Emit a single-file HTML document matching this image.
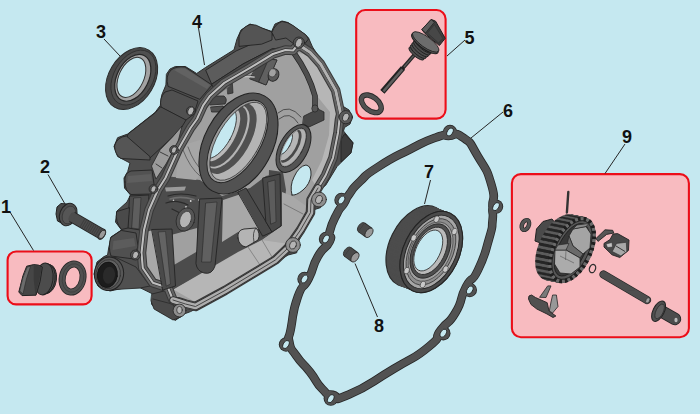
<!DOCTYPE html>
<html><head><meta charset="utf-8">
<style>
html,body{margin:0;padding:0;background:#c5e8f0;}
body{width:700px;height:414px;overflow:hidden;font-family:"Liberation Sans",sans-serif;}
svg{display:block;}
text{font-family:"Liberation Sans",sans-serif;font-weight:bold;font-size:18px;fill:#111;}
</style></head><body>
<svg width="700" height="414" viewBox="0 0 700 414">
<rect width="700" height="414" fill="#c5e8f0"/>
<g fill="#f8bbc0" stroke="#ec0e19" stroke-width="2.1">
<rect x="7.6" y="251.5" width="84" height="52.9" rx="8.5"/>
<rect x="356.2" y="10" width="89.4" height="108.6" rx="9"/>
<rect x="511.9" y="174.15" width="177" height="163.05" rx="9"/>
</g>
<g stroke="#262626" stroke-width="1" fill="none">
<path d="M10 212 L33.5 250.5"/>
<path d="M48 174.5 L65 204"/>
<path d="M104 39 L120 56"/>
<path d="M198.5 28 L204.5 65"/>
<path d="M465 40 L447 56"/>
<path d="M503 112 L471 138"/>
<path d="M430.5 180 L424.5 204"/>
<path d="M377.5 317 L355 263.5"/>
<path d="M625 144 L605 173.5"/>
</g>
<g id="seal3">
<ellipse cx="131.6" cy="78.6" rx="22.9" ry="33.3" transform="rotate(31 131.6 78.6)" fill="#474747" stroke="#2a2a2a" stroke-width="1"/>
<ellipse cx="133.4" cy="77.6" rx="19.6" ry="29.6" transform="rotate(30 133.4 77.6)" fill="#4f4f4f" stroke="#2e2e2e" stroke-width="0.8"/>
<ellipse cx="132.8" cy="77.8" rx="15.8" ry="25" transform="rotate(27 132.8 77.8)" fill="#a2a2a2" stroke="#262626" stroke-width="1.2"/>
<ellipse cx="131.4" cy="77.4" rx="12.4" ry="21.4" transform="rotate(25 131.4 77.4)" fill="#c5e8f0" stroke="#333" stroke-width="1"/>
</g>
<g id="case" stroke-linejoin="round" stroke-linecap="round">
<defs><clipPath id="inclip"><path d="M197 119 L203 105.7 L210 95.7 L224.3 82.9 L250 67.9 L272.9 54 L285.4 50 L293 50.5 L296 47 L300.5 46 L305 49 L310.5 52.7 L320.6 64 L335.7 90.4 L340.7 114 L339.4 120 L338 132.7 L333 157.8 L325.6 175.4 L318 188 L311 200 L310.5 212.6 L300.5 230 L288 248 L275.4 260 L225 290.5 L195.5 306.5 L185.5 304 L173 300 L168 287.7 L152.8 282.7 L142.8 268 L141.5 252.8 L144 230 L149 210 L157.8 190 L165.4 178 L178 150 L190.5 128 Z"/></clipPath></defs>
<path d="M166.6 74 L170 69 L175.4 66.5 L185.4 66.5 L196.7 73.5 L205.5 67.5 L234 49.8 L237 39 L241 30 L250 24 L260 27.6 L271.6 31.4 L275 24 L282 21 L288 22.5 L305 34.4 L308.6 38 L312.5 47 L337 85 L342.5 106 L349 110 L352.4 117 L350 124 L344.5 127.5 L343.5 131 L353 142.7 L350.7 152.8 L337 166.6 L325.6 185.4 L319 190 L324.4 197.5 L320.6 207.6 L313 210 L305.5 227.7 L299 240 L296.7 252.8 L288 255 L275.4 263 L225 294 L190.5 311.6 L184 314 L175.4 320.4 L156.6 310 L151.5 304 L152.8 294 L140 287.7 L124 288 L110 291 L98 286 L94 274 L97 262 L104 256.6 L107.6 255 L108.5 249 L111 237 L121.5 230 L115.5 222 L117 211 L127 202 L130.5 195 L124.5 188 L124 178 L127.7 171.6 L130 163 L117.6 156.5 L114 146.5 L117.6 137.7 L127.7 134 L155 112.5 L160.3 105.4 L161.6 95.4 L165.8 85.3 Z" fill="#4e4e4e" stroke="#2c2c2c" stroke-width="1"/>
<!-- wall details -->
<g stroke="#242424" stroke-width="0.9" stroke-linejoin="round">
<!-- top wall bands -->
<path d="M206 70 L236 51 L272 35 L297 32 L304 41 L296 46 L272 49 L243 64 L212 84 Z" fill="#5c5c5c"/>
<path d="M212 84 L243 64 L272 49 L296 46 L300 50 L272 56 L248 70 L216 92 Z" fill="#494949"/>
<!-- top bosses -->
<path d="M239 46 L239 36 Q241 28 250 24.5 Q256 24 262 28 L272 32 L272 40 L262 44 Z" fill="#545454"/>
<path d="M272 32 Q275 24 282 21.5 Q288 22 293 25.5 L306 35 L308.5 39 L303 46 L294 44 L286 38 L276 40 Z" fill="#545454"/>
<!-- upper-left cylinder 1 -->
<path d="M168 86 Q165 76 171 70 Q176 66 185 67 L212 85 L200 99 Z" fill="#555"/>
<path d="M174 70 Q178 67.5 185 68.5 L210 85 L207 89 Z" fill="#626262" stroke="none"/>
<!-- cylinder 2 -->
<path d="M161 107 Q159 98 165 92 L172 90 L198 101 L194 114 L186 120 Z" fill="#505050"/>
<!-- lower side wall -->
<path d="M161 107 L186 120 L180 130 L150 158 L126 140 L128 134 L155 113 Z" fill="#4c4c4c"/>
<!-- light wedge under side wall -->
<path d="M172.5 137 L182 126 L178 142 L166 164 L156 179 L151.5 166 L160 150 Z" fill="#9c9c9c" stroke="#242424" stroke-width="0.8"/>
<path d="M160 152 L168 156 M156 164 L162 168" stroke="#333" stroke-width="0.9" fill="none"/>
<!-- left long cylinder -->
<path d="M126 136 Q117 137 114.5 146 Q115 155 121 158.5 L150 160 L150 157 Z" fill="#555"/>
<!-- left wall cylinders -->
<path d="M125 182 Q124 173 131 171 L152 170 L154 184 L152 194 L131 194.5 Q125 191 125 182 Z" fill="#525252"/>
<path d="M128 176 L151 174 L152 181 L127 183 Z" fill="#5e5e5e" stroke="none"/>
<path d="M130 196 L149 195 L146 231 L128 228 Z" fill="#4c4c4c"/>
<path d="M134 198 L141 197.5 L139 229 L132 228 Z" fill="#5e5e5e" stroke-width="0.5"/>
<path d="M116.5 212 Q115 222 121.5 229.5 L128 228 L129.5 208 Z" fill="#4a4a4a"/>
<path d="M110.5 238 Q108 248 111 256 L134 259 L138 246 L136 233 L121.5 230.5 Z" fill="#505050"/>
<path d="M113.5 241 L134 238 L135.5 246 L112.5 250 Z" fill="#5c5c5c" stroke="none"/>
<!-- right dark block -->
<path d="M345 134 L353 143 L351 153 L341 162 L341 140 Z" fill="#3c3c3c"/>
</g>
<!-- spout -->
<path d="M107 257 L116 257.5 L136 267 L150 286 L140 288 L116 289.5 Z" fill="#505050" stroke="#242424" stroke-width="0.8"/>
<ellipse cx="109" cy="273.8" rx="14.6" ry="16.8" transform="rotate(8 109 273.8)" fill="#565656" stroke="#222" stroke-width="1"/>
<ellipse cx="108.2" cy="274.2" rx="12.2" ry="14.6" transform="rotate(8 108.2 274.2)" fill="#606060" stroke="#2a2a2a" stroke-width="0.7"/>
<ellipse cx="107.4" cy="274.8" rx="10" ry="12.8" transform="rotate(8 107.4 274.8)" fill="#1c1c1c" stroke="#111" stroke-width="0.8"/>
<ellipse cx="109" cy="275.2" rx="6" ry="8.6" transform="rotate(8 109 275.2)" fill="#2a2a2a"/>
<!-- foot block -->
<path d="M152 294 L168 290 L176 302 L186 308 L181 317 L173 320 L154 309 L151 301 Z" fill="#4a4a4a" stroke="#242424" stroke-width="0.8"/>
<path d="M153 299 L172 304 L178 311" fill="none" stroke="#2a2a2a" stroke-width="0.8"/>
<!-- interior -->
<path d="M197 119 L203 105.7 L210 95.7 L224.3 82.9 L250 67.9 L272.9 54 L285.4 50 L293 50.5 L296 47 L300.5 46 L305 49 L310.5 52.7 L320.6 64 L335.7 90.4 L340.7 114 L339.4 120 L338 132.7 L333 157.8 L325.6 175.4 L318 188 L311 200 L310.5 212.6 L300.5 230 L288 248 L275.4 260 L225 290.5 L195.5 306.5 L185.5 304 L173 300 L168 287.7 L152.8 282.7 L142.8 268 L141.5 252.8 L144 230 L149 210 L157.8 190 L165.4 178 L178 150 L190.5 128 Z" fill="#a0a0a0"/>
<g clip-path="url(#inclip)">
<!-- dark lower-left base -->
<path d="M150 200 L165 176 L200 180 L222 196 L250 188 L266 176 L283 172 L286 190 L282 226 L262 240 L173 290 L140 285 Z" fill="#4c4c4c"/>
<path d="M165 187.5 L186 186.5 L184.5 190.5 L166 191.5 Z" fill="#9a9a9a"/>
<path d="M168 196 Q180 192 196 196 M166 203 Q176 199 188 205 M172 209 L182 214" fill="none" stroke="#2a2a2a" stroke-width="1.2"/>
<path d="M170 199 Q180 195.5 194 199.5" fill="none" stroke="#6e6e6e" stroke-width="1.6"/>
<g fill="#d8d8d8"><circle cx="190.7" cy="201" r="0.9"/><circle cx="186" cy="207" r="0.9"/><circle cx="173.5" cy="200.3" r="0.8"/><circle cx="199" cy="200" r="0.8"/></g>
<!-- light patches -->
<path d="M180 146 L200 140 L204 168 L196 180 L176 178 Z" fill="#a6a6a6"/>
<path d="M183 150 Q190 168 200 176" fill="none" stroke="#555" stroke-width="0.8"/>
<path d="M188 147 Q194 164 203 171" fill="none" stroke="#555" stroke-width="0.8"/>
<path d="M171 235 L197 228 L197 251.5 L173 265.6 Z" fill="#a0a0a0"/>
<path d="M146 232 L153 230 L162 282 L156 285 L145 262 L143 245 Z" fill="#a8a8a8"/>
<path d="M223 200 L241 194 L259 229 L238 232 L222 242 Z" fill="#a8a8a8"/>
<path d="M282 192 L292 196 L306 206 L300 230 L290 244 L262 240 L282 226 Z" fill="#a8a8a8"/>
<path d="M284 204 L303 214" stroke="#666" stroke-width="0.7"/>
<!-- floor -->
<path d="M173.5 289.6 L238 252 L262 240 L290 244 L296 250 L282 259 L197 303 Z" fill="#b6b6b6"/>
<path d="M262 240 L275 262 M248 247 L262 268" stroke="#666" stroke-width="0.6"/>
<!-- right wall inner face -->
<path d="M297 53 L313 55 L335 88 L339 114 L336 140 L328 165 L316 186 L312 180 L322 160 L329 135 L330 112 L317 96 Z" fill="#b6b6b6"/>
<!-- top wide rib -->
<path d="M262 57 L277 60 L266 85 L250 79 Z" fill="#4a4a4a" stroke="#262626" stroke-width="0.8"/>
<path d="M269 59 L277 60 L266 85 L259 82 Z" fill="#606060" stroke="#262626" stroke-width="0.6"/>
<!-- round boss -->
<ellipse cx="273.5" cy="75" rx="5.2" ry="6.4" transform="rotate(25 273.5 75)" fill="#5a5a5a" stroke="#262626" stroke-width="0.9"/>
<ellipse cx="272.6" cy="72.8" rx="3.6" ry="4.2" transform="rotate(25 272.6 72.8)" fill="#a2a2a2" stroke="#333" stroke-width="0.5"/>
<!-- light arc -->
<path d="M231 80 Q242 75 254 77" fill="none" stroke="#c0c0c0" stroke-width="1.6"/>
<path d="M231 80 Q242 75 254 77" fill="none" stroke="#333" stroke-width="0.5" transform="translate(0 -1.2)"/>
<!-- post & capsule ribs upper-left of big boss -->
<path d="M227 79 L232 78 L233 93 L228 94 Z" fill="#474747" stroke="#262626" stroke-width="0.7"/>
<path d="M208 100 Q207 96 211 96 L224 96 Q228 99 225 104 L210 105 Z" fill="#4a4a4a" stroke="#262626" stroke-width="0.8"/>
<path d="M211 107 L223 106 Q226 109 222 112 L212 112 Z" fill="#505050" stroke="#262626" stroke-width="0.8"/>
<path d="M203 100 L211 92 L226 82 L230 86 L214 98 L207 108 Z" fill="#6a6a6a" stroke="none"/>
<!-- curved rib right -->
<path d="M294 53 Q309 74 315 96 L315 108" fill="none" stroke="#262626" stroke-width="5.6"/>
<path d="M294 53 Q309 74 315 96 L315 108" fill="none" stroke="#4e4e4e" stroke-width="4.2"/>
<!-- horizontal rib right -->
<path d="M304 116 L318 109 L324 112 L324 120 L309 127 L303 124 Z" fill="#484848" stroke="#262626" stroke-width="0.8"/>
<ellipse cx="315" cy="108.5" rx="3.2" ry="3.6" fill="#555" stroke="#262626" stroke-width="0.7"/>
<path d="M278 113 Q289 103 301 117 M279 119 Q290 110 298 123" fill="none" stroke="#3a3a3a" stroke-width="0.8"/>
<!-- rib between bosses -->
<path d="M269 170 L283 172 L280 205 L268 205 Z" fill="#4a4a4a"/>
</g>
<!-- flange -->
<path d="M197 119 L203 105.7 L210 95.7 L224.3 82.9 L250 67.9 L272.9 54 L285.4 50 L293 50.5 L296 47 L300.5 46 L305 49 L310.5 52.7 L320.6 64 L335.7 90.4 L340.7 114 L339.4 120 L338 132.7 L333 157.8 L325.6 175.4 L318 188 L311 200 L310.5 212.6 L300.5 230 L288 248 L275.4 260 L225 290.5 L195.5 306.5 L185.5 304 L173 300 L168 287.7 L152.8 282.7 L142.8 268 L141.5 252.8 L144 230 L149 210 L157.8 190 L165.4 178 L178 150 L190.5 128 Z" fill="none" stroke="#383838" stroke-width="9.5"/>
<path d="M197 119 L203 105.7 L210 95.7 L224.3 82.9 L250 67.9 L272.9 54 L285.4 50 L293 50.5 L296 47 L300.5 46 L305 49 L310.5 52.7 L320.6 64 L335.7 90.4 L340.7 114 L339.4 120 L338 132.7 L333 157.8 L325.6 175.4 L318 188 L311 200 L310.5 212.6 L300.5 230 L288 248 L275.4 260 L225 290.5 L195.5 306.5 L185.5 304 L173 300 L168 287.7 L152.8 282.7 L142.8 268 L141.5 252.8 L144 230 L149 210 L157.8 190 L165.4 178 L178 150 L190.5 128 Z" fill="none" stroke="#646464" stroke-width="7.5"/>
<path d="M197 119 L203 105.7 L210 95.7 L224.3 82.9 L250 67.9 L272.9 54 L285.4 50 L293 50.5 L296 47 L300.5 46 L305 49 L310.5 52.7 L320.6 64 L335.7 90.4 L340.7 114 L339.4 120 L338 132.7 L333 157.8 L325.6 175.4 L318 188 L311 200 L310.5 212.6 L300.5 230 L288 248 L275.4 260 L225 290.5 L195.5 306.5 L185.5 304 L173 300 L168 287.7 L152.8 282.7 L142.8 268 L141.5 252.8 L144 230 L149 210 L157.8 190 L165.4 178 L178 150 L190.5 128 Z" fill="none" stroke="#303030" stroke-width="3.5"/>
<path d="M197 119 L203 105.7 L210 95.7 L224.3 82.9 L250 67.9 L272.9 54 L285.4 50 L293 50.5 L296 47 L300.5 46 L305 49 L310.5 52.7 L320.6 64 L335.7 90.4 L340.7 114 L339.4 120 L338 132.7 L333 157.8 L325.6 175.4 L318 188 L311 200 L310.5 212.6 L300.5 230 L288 248 L275.4 260 L225 290.5 L195.5 306.5 L185.5 304 L173 300 L168 287.7 L152.8 282.7 L142.8 268 L141.5 252.8 L144 230 L149 210 L157.8 190 L165.4 178 L178 150 L190.5 128 Z" fill="none" stroke="#bebebe" stroke-width="2.1"/>
<path d="M300.5 46 L305 49 L310.5 52.7 L320.6 64 L335.7 90.4 L340.7 114" fill="none" stroke="#b2b2b2" stroke-width="2.8"/>
<!-- bottom flange lighter -->
<path d="M173 300 L185.5 304 L195.5 306.5 L225 290.5 L275.4 260 L288 248 L300.5 230 L310.5 212.6 L311 200 L318 188" fill="none" stroke="#2e2e2e" stroke-width="7.4"/>
<path d="M173 300 L185.5 304 L195.5 306.5 L225 290.5 L275.4 260 L288 248 L300.5 230 L310.5 212.6 L311 200 L318 188" fill="none" stroke="#adadad" stroke-width="5.6"/>
<path d="M173 300 L185.5 304 L195.5 306.5 L225 290.5 L275.4 260 L288 248 L300.5 230 L310.5 212.6 L311 200 L318 188" fill="none" stroke="#3a3a3a" stroke-width="0.9"/>
<!-- big boss -->
<defs><clipPath id="bigF"><ellipse cx="238.30" cy="141.30" rx="20.80" ry="43.60" transform="rotate(30.5 238.30 141.30)" fill="#000" /></clipPath></defs>
<ellipse cx="238.50" cy="143.50" rx="34.00" ry="54.20" transform="rotate(28.5 238.50 143.50)" fill="#525252" stroke="#222" stroke-width="1.1"/>
<ellipse cx="237.50" cy="141.50" rx="23.00" ry="45.80" transform="rotate(30.5 237.50 141.50)" fill="#9a9a9a" stroke="#222" stroke-width="0.9"/>
<g clip-path="url(#bigF)">
<ellipse cx="238.30" cy="141.30" rx="20.80" ry="43.60" transform="rotate(30.5 238.30 141.30)" fill="#b4b4b4" />
<ellipse cx="231.02" cy="138.62" rx="19.04" ry="39.21" transform="rotate(30.0 231.02 138.62)" fill="#505050" />
<ellipse cx="227.06" cy="136.86" rx="16.62" ry="35.19" transform="rotate(29.6 227.06 136.86)" fill="#b4b4b4" />
<ellipse cx="225.80" cy="136.30" rx="15.85" ry="33.91" transform="rotate(29.5 225.80 136.30)" fill="#505050" />
<ellipse cx="221.66" cy="134.46" rx="13.32" ry="29.70" transform="rotate(29.2 221.66 134.46)" fill="#bababa" />
<ellipse cx="219.50" cy="133.50" rx="12.00" ry="27.50" transform="rotate(29.0 219.50 133.50)" fill="#c5e8f0" stroke="#333" stroke-width="0.8"/>
</g>
<ellipse cx="238.30" cy="141.30" rx="20.80" ry="43.60" transform="rotate(30.5 238.30 141.30)" fill="none" stroke="#333" stroke-width="0.7"/>
<!-- small boss -->
<defs><clipPath id="smF"><ellipse cx="293.30" cy="147.40" rx="8.40" ry="20.30" transform="rotate(29.0 293.30 147.40)" fill="#000" /></clipPath></defs>
<ellipse cx="293.50" cy="148.50" rx="14.20" ry="26.00" transform="rotate(28.0 293.50 148.50)" fill="#545454" stroke="#222" stroke-width="1"/>
<ellipse cx="293.00" cy="147.50" rx="9.60" ry="21.50" transform="rotate(29.0 293.00 147.50)" fill="#9a9a9a" stroke="#262626" stroke-width="0.8"/>
<g clip-path="url(#smF)">
<ellipse cx="293.30" cy="147.40" rx="8.40" ry="20.30" transform="rotate(29.0 293.30 147.40)" fill="#b2b2b2" />
<ellipse cx="290.20" cy="146.10" rx="8.06" ry="18.35" transform="rotate(29.0 290.20 146.10)" fill="#484848" />
<ellipse cx="288.60" cy="145.30" rx="7.18" ry="16.55" transform="rotate(29.0 288.60 145.30)" fill="#b6b6b6" />
<ellipse cx="285.00" cy="143.50" rx="5.20" ry="12.50" transform="rotate(29.0 285.00 143.50)" fill="#c5e8f0" stroke="#333" stroke-width="0.8"/>
</g>
<!-- egg hole -->
<path d="M292 195 Q289.5 186 294 177 Q299 166 306 165 Q311.5 166 311 175 Q310 184 303 190 Q296 196 292 195 Z" fill="#c5e8f0" stroke="#2e2e2e" stroke-width="1"/>
<!-- ribs lower -->
<g stroke="#242424" stroke-width="0.9" stroke-linejoin="round">
<path d="M152 229.5 L172 229 L175.5 286 L163 290 Z" fill="#4a4a4a"/>
<path d="M158.5 232 L165.5 231.5 L170.5 284 L166.5 286 Z" fill="#636363" stroke="#2a2a2a" stroke-width="0.5"/>
<path d="M200 199 L222 198 L215 266 Q212 275 204 273 Q197 271 196 264 Z" fill="#4c4c4c"/>
<path d="M206 203 L217 202 L211 262 L202 262 Z" fill="#606060" stroke-width="0.5"/>
<path d="M238 192 L246 188 L272 232 L263 236 Z" fill="#4a4a4a"/>
<path d="M263 178 L280 174 L281 226 L272 232 L266 222 Z" fill="#484848"/>
<path d="M268 182 L275 180 L276 222 L271 224 Z" fill="#5c5c5c" stroke-width="0.5"/>
<!-- cylinder boss -->
<path d="M238 238 Q237 230 244 229 L256 228 Q261 233 258 240 L246 247 Q239 246 238 238Z" fill="#b4b4b4"/>
<path d="M256 228 Q252 232 254 242" fill="none" stroke-width="0.7"/>
</g>
<!-- left boss with hole -->
<ellipse cx="185.5" cy="219.5" rx="9" ry="12" transform="rotate(20 185.5 219.5)" fill="#555" stroke="#2a2a2a" stroke-width="0.8"/>
<ellipse cx="185.5" cy="219.5" rx="5.5" ry="8.5" transform="rotate(20 185.5 219.5)" fill="#b5b5b5" stroke="#2a2a2a" stroke-width="0.6"/>
<!-- mounting holes -->
<g fill="#8e8e8e" stroke="#242424" stroke-width="0.8">
<circle cx="319" cy="199.5" r="7.4"/>
<circle cx="293" cy="245" r="7.4"/>
<circle cx="179.5" cy="310.5" r="6.4"/>
<circle cx="345.8" cy="117.2" r="6.6" fill="#5a5a5a"/>
<circle cx="298.9" cy="42.6" r="5.6" fill="#555"/>
<circle cx="135.5" cy="255" r="5" fill="#555"/>
<circle cx="153.5" cy="189" r="4.4" fill="#555"/>
<circle cx="174" cy="150" r="4.4" fill="#555"/>
<circle cx="190.8" cy="111" r="4.4" fill="#555"/>
</g>
<g fill="#b4b4b4" stroke="#242424" stroke-width="0.7">
<ellipse cx="298.9" cy="42.8" rx="3.1" ry="4.7" transform="rotate(22 298.9 42.8)"/>
<ellipse cx="190.8" cy="111" rx="2.8" ry="4.2" transform="rotate(20 190.8 111)"/>
<ellipse cx="174" cy="150" rx="2.4" ry="3.4" transform="rotate(20 174 150)"/>
<ellipse cx="153.5" cy="189" rx="2.4" ry="3.4" transform="rotate(20 153.5 189)"/>
<ellipse cx="135.5" cy="255" rx="2.8" ry="3.8" transform="rotate(20 135.5 255)"/>
<ellipse cx="179.5" cy="310" rx="2.8" ry="3.6"/>
<ellipse cx="293" cy="245" rx="3.2" ry="4.2" transform="rotate(20 293 245)"/>
<ellipse cx="319" cy="199.5" rx="3.2" ry="4.2" transform="rotate(20 319 199.5)"/>
<ellipse cx="345.8" cy="117.2" rx="3" ry="4.2" transform="rotate(20 345.8 117.2)"/>
</g>
</g>
<g id="gasket">
<path d="M448.4 135.9 C457.4 135.9 453.1 130.6 463.0 137.5 C472.9 144.4 468.5 140.7 478.0 156.5 C487.5 172.3 486.7 168.7 491.5 185.0 C496.3 201.3 492.2 196.9 492.5 205.3 C492.8 213.7 492.4 204.9 492.4 210.1 C492.4 215.4 493.6 211.4 492.5 221.0 C491.4 230.6 493.8 222.7 489.0 239.0 C484.2 255.3 485.7 254.0 478.0 270.0 C470.3 286.0 473.4 272.8 465.9 286.9 C458.5 301.0 464.1 298.0 455.7 312.3 C447.3 326.6 449.7 318.4 440.8 329.8 C431.9 341.2 444.8 333.4 429.0 346.5 C413.2 359.6 420.2 353.0 393.5 369.0 C366.8 385.0 369.3 385.9 349.0 394.5 C328.7 403.1 341.6 396.7 332.7 394.8 C323.8 393.0 329.9 396.6 322.3 389.0 C314.7 381.4 318.6 383.0 310.0 372.0 C301.4 361.0 303.4 366.0 296.5 356.0 C289.6 346.0 291.3 351.4 289.4 342.1 C287.6 332.8 288.2 343.1 291.0 328.0 C293.8 312.9 291.9 313.2 297.8 296.7 C303.7 280.2 302.0 291.8 308.7 278.5 C315.3 265.2 310.8 269.1 317.8 256.7 C324.8 244.3 325.7 249.8 329.7 241.4 C333.7 233.0 327.3 240.8 329.7 231.6 C332.1 222.4 332.2 223.1 337.0 213.7 C341.8 204.3 340.0 209.9 344.1 203.3 C348.2 196.7 344.1 201.3 349.4 194.0 C354.7 186.7 350.5 190.5 360.0 181.5 C369.5 172.5 361.3 177.7 378.0 167.0 C394.7 156.3 390.7 159.1 410.0 149.3 C429.3 139.5 423.2 142.0 436.0 137.5 C448.8 133.0 439.4 135.9 448.4 135.9 Z" fill="none" stroke="#262626" stroke-width="8.6" stroke-linejoin="round"/>
<circle cx="450" cy="132" r="7.2" fill="#262626"/>
<circle cx="341.5" cy="200" r="7.2" fill="#262626"/>
<circle cx="326" cy="239" r="7.2" fill="#262626"/>
<circle cx="304.5" cy="279" r="7.2" fill="#262626"/>
<circle cx="286" cy="344.5" r="7.2" fill="#262626"/>
<circle cx="330.8" cy="398.6" r="7.2" fill="#262626"/>
<circle cx="443.3" cy="333.2" r="7.2" fill="#262626"/>
<circle cx="469.8" cy="290" r="7.2" fill="#262626"/>
<circle cx="496" cy="206.6" r="7.2" fill="#262626"/>
<path d="M448.4 135.9 C457.4 135.9 453.1 130.6 463.0 137.5 C472.9 144.4 468.5 140.7 478.0 156.5 C487.5 172.3 486.7 168.7 491.5 185.0 C496.3 201.3 492.2 196.9 492.5 205.3 C492.8 213.7 492.4 204.9 492.4 210.1 C492.4 215.4 493.6 211.4 492.5 221.0 C491.4 230.6 493.8 222.7 489.0 239.0 C484.2 255.3 485.7 254.0 478.0 270.0 C470.3 286.0 473.4 272.8 465.9 286.9 C458.5 301.0 464.1 298.0 455.7 312.3 C447.3 326.6 449.7 318.4 440.8 329.8 C431.9 341.2 444.8 333.4 429.0 346.5 C413.2 359.6 420.2 353.0 393.5 369.0 C366.8 385.0 369.3 385.9 349.0 394.5 C328.7 403.1 341.6 396.7 332.7 394.8 C323.8 393.0 329.9 396.6 322.3 389.0 C314.7 381.4 318.6 383.0 310.0 372.0 C301.4 361.0 303.4 366.0 296.5 356.0 C289.6 346.0 291.3 351.4 289.4 342.1 C287.6 332.8 288.2 343.1 291.0 328.0 C293.8 312.9 291.9 313.2 297.8 296.7 C303.7 280.2 302.0 291.8 308.7 278.5 C315.3 265.2 310.8 269.1 317.8 256.7 C324.8 244.3 325.7 249.8 329.7 241.4 C333.7 233.0 327.3 240.8 329.7 231.6 C332.1 222.4 332.2 223.1 337.0 213.7 C341.8 204.3 340.0 209.9 344.1 203.3 C348.2 196.7 344.1 201.3 349.4 194.0 C354.7 186.7 350.5 190.5 360.0 181.5 C369.5 172.5 361.3 177.7 378.0 167.0 C394.7 156.3 390.7 159.1 410.0 149.3 C429.3 139.5 423.2 142.0 436.0 137.5 C448.8 133.0 439.4 135.9 448.4 135.9 Z" fill="none" stroke="#525252" stroke-width="7" stroke-linejoin="round"/>
<circle cx="450" cy="132" r="6.4" fill="#525252"/>
<circle cx="341.5" cy="200" r="6.4" fill="#525252"/>
<circle cx="326" cy="239" r="6.4" fill="#525252"/>
<circle cx="304.5" cy="279" r="6.4" fill="#525252"/>
<circle cx="286" cy="344.5" r="6.4" fill="#525252"/>
<circle cx="330.8" cy="398.6" r="6.4" fill="#525252"/>
<circle cx="443.3" cy="333.2" r="6.4" fill="#525252"/>
<circle cx="469.8" cy="290" r="6.4" fill="#525252"/>
<circle cx="496" cy="206.6" r="6.4" fill="#525252"/>
<ellipse cx="450" cy="132" rx="2.7" ry="4.4" fill="#c5e8f0" stroke="#1e1e1e" stroke-width="0.8" transform="rotate(30 450 132)"/>
<ellipse cx="341.5" cy="200" rx="2.7" ry="4.4" fill="#c5e8f0" stroke="#1e1e1e" stroke-width="0.8" transform="rotate(30 341.5 200)"/>
<ellipse cx="326" cy="239" rx="2.7" ry="4.4" fill="#c5e8f0" stroke="#1e1e1e" stroke-width="0.8" transform="rotate(30 326 239)"/>
<ellipse cx="304.5" cy="279" rx="2.7" ry="4.4" fill="#c5e8f0" stroke="#1e1e1e" stroke-width="0.8" transform="rotate(30 304.5 279)"/>
<ellipse cx="286" cy="344.5" rx="2.7" ry="4.4" fill="#c5e8f0" stroke="#1e1e1e" stroke-width="0.8" transform="rotate(30 286 344.5)"/>
<ellipse cx="330.8" cy="398.6" rx="2.7" ry="4.4" fill="#c5e8f0" stroke="#1e1e1e" stroke-width="0.8" transform="rotate(30 330.8 398.6)"/>
<ellipse cx="443.3" cy="333.2" rx="2.7" ry="4.4" fill="#c5e8f0" stroke="#1e1e1e" stroke-width="0.8" transform="rotate(30 443.3 333.2)"/>
<ellipse cx="469.8" cy="290" rx="2.7" ry="4.4" fill="#c5e8f0" stroke="#1e1e1e" stroke-width="0.8" transform="rotate(30 469.8 290)"/>
<ellipse cx="496" cy="206.6" rx="2.7" ry="4.4" fill="#c5e8f0" stroke="#1e1e1e" stroke-width="0.8" transform="rotate(30 496 206.6)"/>
</g>
<g id="bearing">
<ellipse cx="417.30" cy="246.40" rx="27.7" ry="43.1" transform="rotate(26.2 417.30 246.40)" fill="#4c4c4c" stroke="#2a2a2a" stroke-width="1.2"/>
<ellipse cx="418.30" cy="246.80" rx="27.7" ry="43.1" transform="rotate(26.2 418.30 246.80)" fill="#4c4c4c" stroke="#2a2a2a" stroke-width="0"/>
<ellipse cx="419.30" cy="247.20" rx="27.7" ry="43.1" transform="rotate(26.2 419.30 247.20)" fill="#4c4c4c" stroke="#2a2a2a" stroke-width="0"/>
<ellipse cx="420.30" cy="247.60" rx="27.7" ry="43.1" transform="rotate(26.2 420.30 247.60)" fill="#4c4c4c" stroke="#2a2a2a" stroke-width="0"/>
<ellipse cx="421.30" cy="248.00" rx="27.7" ry="43.1" transform="rotate(26.2 421.30 248.00)" fill="#4c4c4c" stroke="#2a2a2a" stroke-width="0"/>
<ellipse cx="422.30" cy="248.40" rx="27.7" ry="43.1" transform="rotate(26.2 422.30 248.40)" fill="#4c4c4c" stroke="#2a2a2a" stroke-width="0"/>
<ellipse cx="423.30" cy="248.80" rx="27.7" ry="43.1" transform="rotate(26.2 423.30 248.80)" fill="#4c4c4c" stroke="#2a2a2a" stroke-width="0"/>
<ellipse cx="424.30" cy="249.20" rx="27.7" ry="43.1" transform="rotate(26.2 424.30 249.20)" fill="#4c4c4c" stroke="#2a2a2a" stroke-width="0"/>
<ellipse cx="425.30" cy="249.60" rx="27.7" ry="43.1" transform="rotate(26.2 425.30 249.60)" fill="#4c4c4c" stroke="#2a2a2a" stroke-width="0"/>
<ellipse cx="426.30" cy="250.00" rx="27.7" ry="43.1" transform="rotate(26.2 426.30 250.00)" fill="#4c4c4c" stroke="#2a2a2a" stroke-width="0"/>
<ellipse cx="427.30" cy="250.40" rx="27.7" ry="43.1" transform="rotate(26.2 427.30 250.40)" fill="#4c4c4c" stroke="#2a2a2a" stroke-width="0"/>
<ellipse cx="428.30" cy="250.80" rx="27.7" ry="43.1" transform="rotate(26.2 428.30 250.80)" fill="#4c4c4c" stroke="#2a2a2a" stroke-width="0"/>
<ellipse cx="429.30" cy="251.20" rx="27.7" ry="43.1" transform="rotate(26.2 429.30 251.20)" fill="#4c4c4c" stroke="#2a2a2a" stroke-width="0"/>
<ellipse cx="430.30" cy="251.60" rx="27.7" ry="43.1" transform="rotate(26.2 430.30 251.60)" fill="#4c4c4c" stroke="#2a2a2a" stroke-width="0"/>
<ellipse cx="431.30" cy="252.00" rx="27.7" ry="43.1" transform="rotate(26.2 431.30 252.00)" fill="#4c4c4c" stroke="#2a2a2a" stroke-width="1.2"/>
<g transform="translate(431.3 252) rotate(26.2)">
<ellipse rx="27.7" ry="43.1" fill="#4a4a4a" stroke="#242424" stroke-width="1"/>
<ellipse rx="24.3" ry="39.2" fill="#a6a6a6" stroke="#242424" stroke-width="0.9"/>
<ellipse cx="-0.4" rx="21.6" ry="35.4" fill="#8e8e8e" stroke="#3a3a3a" stroke-width="0.8"/>
<ellipse cx="-0.8" rx="19.6" ry="31.6" fill="#a0a0a0" stroke="#3a3a3a" stroke-width="0.6"/>
<ellipse cx="-1.2" cy="-0.5" rx="17.8" ry="29" fill="#4e4e4e" stroke="#242424" stroke-width="0.8"/>
<ellipse cx="-1.6" cy="-0.5" rx="14.8" ry="25.4" fill="#bababa" stroke="#242424" stroke-width="0.8"/>
<ellipse cx="-3.4" cy="0" rx="12" ry="22" fill="#c5e8f0" stroke="#333" stroke-width="0.8"/>
</g>
<ellipse cx="445.5" cy="269.1" rx="2.5" ry="3.5" fill="#c8c8c8" stroke="#333" stroke-width="0.6" transform="rotate(26.2 445.5 269.1)"/>
<ellipse cx="422.9" cy="284.5" rx="2.5" ry="3.5" fill="#c8c8c8" stroke="#333" stroke-width="0.6" transform="rotate(26.2 422.9 284.5)"/>
<ellipse cx="406.7" cy="270.6" rx="2.5" ry="3.5" fill="#c8c8c8" stroke="#333" stroke-width="0.6" transform="rotate(26.2 406.7 270.6)"/>
<ellipse cx="413.7" cy="237.9" rx="2.5" ry="3.5" fill="#c8c8c8" stroke="#333" stroke-width="0.6" transform="rotate(26.2 413.7 237.9)"/>
<ellipse cx="436.6" cy="219.2" rx="2.5" ry="3.5" fill="#c8c8c8" stroke="#333" stroke-width="0.6" transform="rotate(26.2 436.6 219.2)"/>
<ellipse cx="454.5" cy="231.5" rx="2.5" ry="3.5" fill="#c8c8c8" stroke="#333" stroke-width="0.6" transform="rotate(26.2 454.5 231.5)"/>
</g>
<g id="pins">
<ellipse cx="361.5" cy="227.3" rx="3.2" ry="5.4" transform="rotate(36.3 361.5 227.3)" fill="#4a4a4a" stroke="#2a2a2a" stroke-width="0.8"/>
<path d="M361.5 227.3 L369 232.8" stroke="#2a2a2a" stroke-width="11.6" fill="none"/>
<path d="M361.5 227.3 L369 232.8" stroke="#4a4a4a" stroke-width="10.2" fill="none"/>
<ellipse cx="369" cy="232.8" rx="3.2" ry="5.4" transform="rotate(36.3 369 232.8)" fill="#9a9a9a" stroke="#2a2a2a" stroke-width="0.8"/>
<ellipse cx="347.5" cy="251.8" rx="3.2" ry="5.4" transform="rotate(36.3 347.5 251.8)" fill="#4a4a4a" stroke="#2a2a2a" stroke-width="0.8"/>
<path d="M347.5 251.8 L355 257.3" stroke="#2a2a2a" stroke-width="11.6" fill="none"/>
<path d="M347.5 251.8 L355 257.3" stroke="#4a4a4a" stroke-width="10.2" fill="none"/>
<ellipse cx="355" cy="257.3" rx="3.2" ry="5.4" transform="rotate(36.3 355 257.3)" fill="#9a9a9a" stroke="#2a2a2a" stroke-width="0.8"/>
</g>
<g id="bolt2">
<!-- hex head behind -->
<path d="M57 207 L61 203.5 L67 204 L70 210 L68 220 L62.5 223.5 L57.5 221 L56 214 Z" fill="#474747" stroke="#222" stroke-width="1" stroke-linejoin="round"/>
<!-- flange -->
<ellipse cx="68.2" cy="214.6" rx="8.4" ry="11.6" transform="rotate(22 68.2 214.6)" fill="#4e4e4e" stroke="#222" stroke-width="1"/>
<ellipse cx="69" cy="215" rx="6.4" ry="9.2" transform="rotate(22 69 215)" fill="#565656" stroke="#2e2e2e" stroke-width="0.6"/>
<!-- shank -->
<path d="M72 216.8 L101.8 234.2" stroke="#222" stroke-width="11.2" fill="none"/>
<ellipse cx="101.8" cy="234.2" rx="3.2" ry="5.6" transform="rotate(30.3 101.8 234.2)" fill="#4a4a4a" stroke="#222" stroke-width="0.9"/>
<path d="M72 216.8 L101.8 234.2" stroke="#4c4c4c" stroke-width="9.6" fill="none"/>
<ellipse cx="72" cy="216.8" rx="2.8" ry="4.8" transform="rotate(30.3 72 216.8)" fill="#4c4c4c"/>
<path d="M82 222.6 L101.8 234.2" stroke="#3e3e3e" stroke-width="9.6" stroke-dasharray="1 1.2" fill="none"/>
<ellipse cx="102.2" cy="234.4" rx="2.5" ry="4.6" transform="rotate(30.3 102.2 234.4)" fill="#9a9a9a" stroke="#222" stroke-width="0.7"/>
</g>
<g id="plug1">
<!-- washer ring -->
<ellipse cx="72.6" cy="278" rx="10.3" ry="14.2" transform="rotate(12 72.6 278)" fill="none" stroke="#262626" stroke-width="7"/>
<ellipse cx="72.6" cy="278" rx="10.3" ry="14.2" transform="rotate(12 72.6 278)" fill="none" stroke="#505050" stroke-width="5.4"/>
<ellipse cx="73" cy="278" rx="10.6" ry="14.4" transform="rotate(12 73 278)" fill="none" stroke="#3a3a3a" stroke-width="0.7"/>
<!-- plug threads -->
<ellipse cx="47.5" cy="279" rx="9" ry="14.6" transform="rotate(8 47.5 279)" fill="#484848" stroke="#222" stroke-width="0.9"/>
<ellipse cx="46" cy="279" rx="9" ry="15.2" transform="rotate(8 46 279)" fill="#505050" stroke="#222" stroke-width="0.9"/>
<!-- disc flange -->
<ellipse cx="44" cy="279" rx="9" ry="16" transform="rotate(8 44 279)" fill="#4c4c4c" stroke="#222" stroke-width="1"/>
<!-- wing grip -->
<path d="M18.8 292 L20.4 285.8 Q22.5 275 26.7 266.2 L33.7 264.6 Q39 264.5 42.4 267 Q41 282 36 295.2 L22 295.6 Z" fill="#464646" stroke="#222" stroke-width="1" stroke-linejoin="round"/>
<path d="M19.6 291 Q22.5 276 27.2 267 L30.6 266.2 Q26 278 23 294 Z" fill="#6c6c6c" stroke="#2a2a2a" stroke-width="0.6"/>
<path d="M33.7 265.2 Q38 266 41.6 267.6 Q40 281 35.4 294.4 Q33 280 33.7 265.2 Z" fill="#3a3a3a"/>
</g>
<g id="dip5">
<!-- rod -->
<path d="M416.8 52 L382.6 91.6" stroke="#262626" stroke-width="3.8" fill="none"/>
<path d="M403 68 L382.4 91.8" stroke="#222" stroke-width="5.6" fill="none"/>
<path d="M402.4 69.4 L383.4 91.4" stroke="#5e5e5e" stroke-width="2.4" fill="none"/>
<path d="M415.5 53.6 L404 67" stroke="#5a5a5a" stroke-width="1.4" fill="none"/>
<!-- threads -->
<g fill="#4c4c4c" stroke="#222" stroke-width="0.9">
<ellipse cx="416.5" cy="53.5" rx="9.5" ry="3.2" transform="rotate(39.5 416.5 53.5)"/>
<ellipse cx="418.3" cy="51.6" rx="10" ry="3.4" transform="rotate(39.5 418.3 51.6)"/>
<ellipse cx="420.1" cy="49.7" rx="10.4" ry="3.4" transform="rotate(39.5 420.1 49.7)"/>
<ellipse cx="421.9" cy="47.8" rx="10.6" ry="3.4" transform="rotate(39.5 421.9 47.8)"/>
<ellipse cx="423.5" cy="46" rx="10.8" ry="3.4" transform="rotate(39.5 423.5 46)"/>
</g>
<!-- flange -->
<ellipse cx="424.9" cy="43.4" rx="16" ry="5.4" transform="rotate(36 424.9 43.4)" fill="#505050" stroke="#1e1e1e" stroke-width="1"/>
<ellipse cx="425.7" cy="41.9" rx="15.8" ry="5.3" transform="rotate(36 425.7 41.9)" fill="#6c6c6c" stroke="#1e1e1e" stroke-width="0.8"/>
<!-- grip -->
<path d="M421.8 29.6 L431.2 19.4 L435.6 21.2 L445.2 38.3 L439.4 45.6 L425 33.6 Z" fill="#3e3e3e" stroke="#1e1e1e" stroke-width="1" stroke-linejoin="round"/>
<path d="M421.8 29.6 L431.2 19.4 L434.2 22.4 L425.6 33 Z" fill="#5c5c5c" stroke="#1e1e1e" stroke-width="0.7" stroke-linejoin="round"/>
<path d="M427.5 33 L434.4 24.6 L442.8 38.4 L438.6 43 Z" fill="#474747" stroke="#2a2a2a" stroke-width="0.5"/>
<!-- o-ring -->
<ellipse cx="371.3" cy="103.8" rx="11.4" ry="6.8" transform="rotate(38 371.3 103.8)" fill="none" stroke="#262626" stroke-width="5.4"/>
<ellipse cx="371.3" cy="103.8" rx="11.4" ry="6.8" transform="rotate(38 371.3 103.8)" fill="none" stroke="#505050" stroke-width="3.8"/>
</g>
<g id="gov9">
<path d="M535 241 L536.5 229 L543 221.5 L552 219 L556 224 L549 246 Z" fill="#4a4a4a" stroke="#222" stroke-width="1" stroke-linejoin="round"/>
<ellipse cx="559.00" cy="247.40" rx="18" ry="33.5" transform="rotate(26 559.00 247.40)" fill="#3c3c3c" stroke="#5c5c5c" stroke-width="4" stroke-dasharray="2.8 2.8"/>
<ellipse cx="559.00" cy="247.40" rx="18" ry="33.5" transform="rotate(26 559.00 247.40)" fill="none" stroke="#262626" stroke-width="4" stroke-dasharray="2.8 2.8" stroke-dashoffset="2.8"/>
<ellipse cx="560.00" cy="247.60" rx="18" ry="33.5" transform="rotate(26 560.00 247.60)" fill="#3c3c3c" stroke="#5c5c5c" stroke-width="4" stroke-dasharray="2.8 2.8"/>
<ellipse cx="560.00" cy="247.60" rx="18" ry="33.5" transform="rotate(26 560.00 247.60)" fill="none" stroke="#262626" stroke-width="4" stroke-dasharray="2.8 2.8" stroke-dashoffset="2.8"/>
<ellipse cx="561.00" cy="247.80" rx="18" ry="33.5" transform="rotate(26 561.00 247.80)" fill="#3c3c3c" stroke="#5c5c5c" stroke-width="4" stroke-dasharray="2.8 2.8"/>
<ellipse cx="561.00" cy="247.80" rx="18" ry="33.5" transform="rotate(26 561.00 247.80)" fill="none" stroke="#262626" stroke-width="4" stroke-dasharray="2.8 2.8" stroke-dashoffset="2.8"/>
<ellipse cx="562.00" cy="248.00" rx="18" ry="33.5" transform="rotate(26 562.00 248.00)" fill="#3c3c3c" stroke="#5c5c5c" stroke-width="4" stroke-dasharray="2.8 2.8"/>
<ellipse cx="562.00" cy="248.00" rx="18" ry="33.5" transform="rotate(26 562.00 248.00)" fill="none" stroke="#262626" stroke-width="4" stroke-dasharray="2.8 2.8" stroke-dashoffset="2.8"/>
<ellipse cx="563.00" cy="248.20" rx="18" ry="33.5" transform="rotate(26 563.00 248.20)" fill="#3c3c3c" stroke="#5c5c5c" stroke-width="4" stroke-dasharray="2.8 2.8"/>
<ellipse cx="563.00" cy="248.20" rx="18" ry="33.5" transform="rotate(26 563.00 248.20)" fill="none" stroke="#262626" stroke-width="4" stroke-dasharray="2.8 2.8" stroke-dashoffset="2.8"/>
<ellipse cx="564.00" cy="248.40" rx="18" ry="33.5" transform="rotate(26 564.00 248.40)" fill="#3c3c3c" stroke="#5c5c5c" stroke-width="4" stroke-dasharray="2.8 2.8"/>
<ellipse cx="564.00" cy="248.40" rx="18" ry="33.5" transform="rotate(26 564.00 248.40)" fill="none" stroke="#262626" stroke-width="4" stroke-dasharray="2.8 2.8" stroke-dashoffset="2.8"/>
<ellipse cx="565.00" cy="248.60" rx="18" ry="33.5" transform="rotate(26 565.00 248.60)" fill="#3c3c3c" stroke="#5c5c5c" stroke-width="4" stroke-dasharray="2.8 2.8"/>
<ellipse cx="565.00" cy="248.60" rx="18" ry="33.5" transform="rotate(26 565.00 248.60)" fill="none" stroke="#262626" stroke-width="4" stroke-dasharray="2.8 2.8" stroke-dashoffset="2.8"/>
<ellipse cx="566.00" cy="248.80" rx="18" ry="33.5" transform="rotate(26 566.00 248.80)" fill="#3c3c3c" stroke="#5c5c5c" stroke-width="4" stroke-dasharray="2.8 2.8"/>
<ellipse cx="566.00" cy="248.80" rx="18" ry="33.5" transform="rotate(26 566.00 248.80)" fill="none" stroke="#262626" stroke-width="4" stroke-dasharray="2.8 2.8" stroke-dashoffset="2.8"/>
<ellipse cx="567.00" cy="249.00" rx="18" ry="33.5" transform="rotate(26 567.00 249.00)" fill="#3c3c3c" stroke="#5c5c5c" stroke-width="4" stroke-dasharray="2.8 2.8"/>
<ellipse cx="567.00" cy="249.00" rx="18" ry="33.5" transform="rotate(26 567.00 249.00)" fill="none" stroke="#262626" stroke-width="4" stroke-dasharray="2.8 2.8" stroke-dashoffset="2.8"/>
<ellipse cx="568.00" cy="249.20" rx="18" ry="33.5" transform="rotate(26 568.00 249.20)" fill="#3c3c3c" stroke="#5c5c5c" stroke-width="4" stroke-dasharray="2.8 2.8"/>
<ellipse cx="568.00" cy="249.20" rx="18" ry="33.5" transform="rotate(26 568.00 249.20)" fill="none" stroke="#262626" stroke-width="4" stroke-dasharray="2.8 2.8" stroke-dashoffset="2.8"/>
<ellipse cx="569.00" cy="249.40" rx="18" ry="33.5" transform="rotate(26 569.00 249.40)" fill="#3c3c3c" stroke="#5c5c5c" stroke-width="4" stroke-dasharray="2.8 2.8"/>
<ellipse cx="569.00" cy="249.40" rx="18" ry="33.5" transform="rotate(26 569.00 249.40)" fill="none" stroke="#262626" stroke-width="4" stroke-dasharray="2.8 2.8" stroke-dashoffset="2.8"/>
<ellipse cx="570.00" cy="249.60" rx="18" ry="33.5" transform="rotate(26 570.00 249.60)" fill="#3c3c3c" stroke="#5c5c5c" stroke-width="4" stroke-dasharray="2.8 2.8"/>
<ellipse cx="570.00" cy="249.60" rx="18" ry="33.5" transform="rotate(26 570.00 249.60)" fill="none" stroke="#262626" stroke-width="4" stroke-dasharray="2.8 2.8" stroke-dashoffset="2.8"/>
<ellipse cx="571.00" cy="249.80" rx="18" ry="33.5" transform="rotate(26 571.00 249.80)" fill="#3c3c3c" stroke="#5c5c5c" stroke-width="4" stroke-dasharray="2.8 2.8"/>
<ellipse cx="571.00" cy="249.80" rx="18" ry="33.5" transform="rotate(26 571.00 249.80)" fill="none" stroke="#262626" stroke-width="4" stroke-dasharray="2.8 2.8" stroke-dashoffset="2.8"/>
<ellipse cx="572.00" cy="250.00" rx="18" ry="33.5" transform="rotate(26 572.00 250.00)" fill="#3c3c3c" stroke="#5c5c5c" stroke-width="4" stroke-dasharray="2.8 2.8"/>
<ellipse cx="572.00" cy="250.00" rx="18" ry="33.5" transform="rotate(26 572.00 250.00)" fill="none" stroke="#262626" stroke-width="4" stroke-dasharray="2.8 2.8" stroke-dashoffset="2.8"/>
<g transform="translate(572 250) rotate(26)">
<ellipse rx="18" ry="33.5" fill="#484848" stroke="#1e1e1e" stroke-width="4.4" stroke-dasharray="2.8 2.8" stroke-dashoffset="2.8"/>
<ellipse rx="18" ry="33.5" fill="none" stroke="#6a6a6a" stroke-width="3.4" stroke-dasharray="2.8 2.8"/>
<ellipse rx="16.2" ry="31.7" fill="#565656" stroke="#1e1e1e" stroke-width="0.8"/>
<ellipse cx="-0.5" rx="13.4" ry="28.5" fill="#383838" stroke="#1a1a1a" stroke-width="0.7"/>
</g>
<path d="M573 229 L586 226.5 L591 234 L590 248 L583 254 L573 246 L569 236 Z" fill="#a4a4a4" stroke="#222" stroke-width="0.8" stroke-linejoin="round"/>
<path d="M573 229 L577 225 L589 223.5 L586 226.5 Z" fill="#888" stroke="#222" stroke-width="0.6"/>
<path d="M569 236 L573 246 L583 254 L580 258 L566 250 Z" fill="#6a6a6a" stroke="#222" stroke-width="0.6" stroke-linejoin="round"/>
<path d="M555 250 L566 250 L580 258 L580 267 L571 274 L560 273 L554.5 264 Z" fill="#ababab" stroke="#222" stroke-width="0.8" stroke-linejoin="round"/>
<path d="M555 250 L558 245 L569 243.5 L566 250 Z" fill="#888" stroke="#222" stroke-width="0.6"/>
<path d="M560 256 L574 263 M566 250 L565.5 260" stroke="#555" stroke-width="0.6" fill="none"/>
<ellipse cx="525.4" cy="225" rx="3.3" ry="5.2" transform="rotate(26 525.4 225)" fill="none" stroke="#2a2a2a" stroke-width="4.4"/>
<ellipse cx="525.4" cy="225" rx="3.3" ry="5.2" transform="rotate(26 525.4 225)" fill="none" stroke="#555" stroke-width="3"/>
<path d="M568.3 192 L566.9 212.5" stroke="#333" stroke-width="2.4" stroke-linecap="round" fill="none"/>
<ellipse cx="592.5" cy="268.6" rx="3" ry="4.2" transform="rotate(20 592.5 268.6)" fill="none" stroke="#2e2e2e" stroke-width="1.3"/>
<path d="M596 238.5 L605 229.8 L612.7 230.3 L613.8 233 L606.7 234.4 L598 241.4 Z" fill="#565656" stroke="#242424" stroke-width="0.9" stroke-linejoin="round"/>
<path d="M604 243.4 L610 239.6 L613 234 L617.6 233.6 L629 240 L628.5 250.4 L619.8 257.5 L612 254.8 L604 247 Z" fill="#484848" stroke="#242424" stroke-width="0.9" stroke-linejoin="round"/>
<path d="M616.5 243.4 L626.3 242.3 L626.8 251.5 L620.9 255.9 L612.2 251.5 Z" fill="#a8a8a8" stroke="#2a2a2a" stroke-width="0.6" stroke-linejoin="round"/>
<path d="M606 244 L612 242.5 L612.5 247 L607.5 247.5 Z" fill="#c4c4c4" stroke="#2a2a2a" stroke-width="0.5"/>
<path d="M616 246 L625 251.5" stroke="#2a2a2a" stroke-width="0.9"/>
<path d="M603.5 274.5 L647 300" stroke="#262626" stroke-width="8.4" stroke-linecap="round" fill="none"/>
<path d="M603.5 274.5 L647 300" stroke="#4e4e4e" stroke-width="6.8" stroke-linecap="round" fill="none"/>
<path d="M631 290.5 L631 290.6" stroke="#262626" stroke-width="7" fill="none"/>
<ellipse cx="647.8" cy="300.4" rx="1.8" ry="3" transform="rotate(28 647.8 300.4)" fill="#a0a0a0" stroke="#262626" stroke-width="0.6"/>
<path d="M660 310.5 L675 319" stroke="#262626" stroke-width="12.4" stroke-linecap="round" fill="none"/>
<path d="M660 310.5 L675 319" stroke="#4c4c4c" stroke-width="10.8" stroke-linecap="round" fill="none"/>
<ellipse cx="658.6" cy="311.2" rx="5.6" ry="11" transform="rotate(26 658.6 311.2)" fill="#505050" stroke="#222" stroke-width="1"/>
<ellipse cx="659.6" cy="311.4" rx="3.6" ry="8" transform="rotate(26 659.6 311.4)" fill="#606060" stroke="#2a2a2a" stroke-width="0.7"/>
<ellipse cx="676" cy="320" rx="1.6" ry="2.2" fill="#bbb"/>
<path d="M528.5 299 Q528 295 531.5 295 L535.5 297.5 L547.2 302.7 L549 311 L555.9 316 L553 317.5 L547 314 L536.8 309 L531 304.5 Z" fill="#505050" stroke="#242424" stroke-width="0.9" stroke-linejoin="round"/>
<path d="M539.6 297.3 L547.7 285.9 L551 285.9 L546 297.5 Z" fill="#7a7a7a" stroke="#242424" stroke-width="0.8" stroke-linejoin="round"/>
<path d="M551 302 L552.6 295 L556.4 295 L558 306.5 L552.6 313 L549.3 311 Z" fill="#989898" stroke="#242424" stroke-width="0.8" stroke-linejoin="round"/>
</g>
<g text-anchor="middle">
<text x="6" y="212.5">1</text>
<text x="45" y="173">2</text>
<text x="101" y="38.2">3</text>
<text x="197" y="28">4</text>
<text x="469.5" y="44">5</text>
<text x="508" y="117">6</text>
<text x="429" y="178">7</text>
<text x="379" y="332">8</text>
<text x="627" y="143">9</text>
</g>
</svg>
</body></html>
